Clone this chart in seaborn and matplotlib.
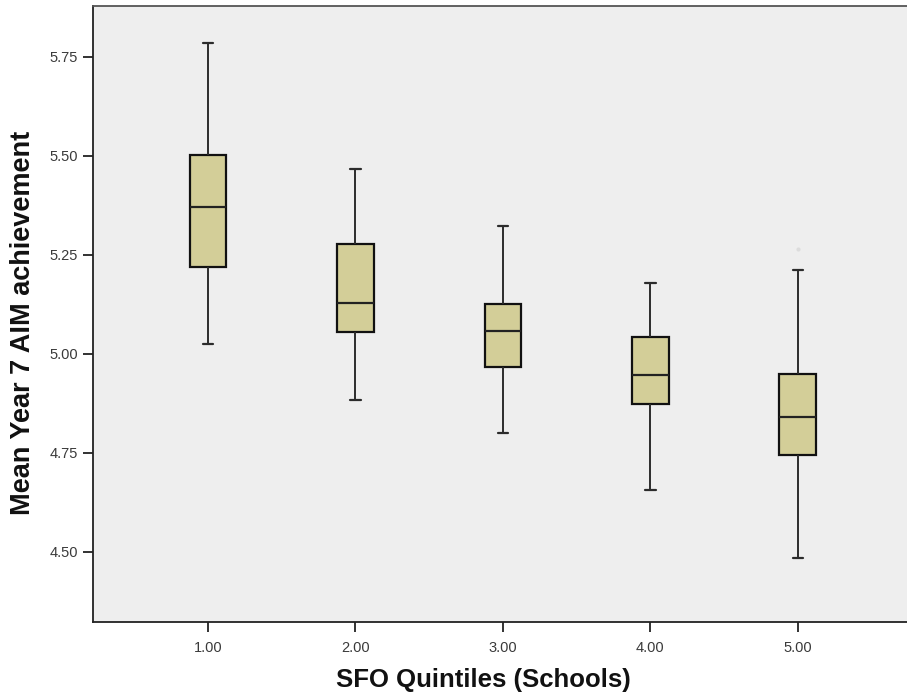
import pandas as pd
import seaborn as sns
import matplotlib.pyplot as plt
import numpy as np

# Box statistics (per quintile)
quintiles = ['1.00', '2.00', '3.00', '4.00', '5.00']
whisker_low = [5.025, 4.882, 4.799, 4.656, 4.485]
q1 = [5.218, 5.056, 4.966, 4.872, 4.745]
median = [5.371, 5.129, 5.058, 4.945, 4.841]
q3 = [5.502, 5.276, 5.126, 5.042, 4.950]
whisker_high = [5.785, 5.466, 5.322, 5.179, 5.211]

# faint outlier above quintile 5
outlier_group = ['5.00']
outlier_value = [5.264]

y_ticks = [4.50, 4.75, 5.00, 5.25, 5.50, 5.75]

# Five points per group -> quartiles and whisker ends land exactly on the values above
rows = []
for i, q in enumerate(quintiles):
    for v in [whisker_low[i], q1[i], median[i], q3[i], whisker_high[i]]:
        rows.append({'quintile': q, 'value': v})
df = pd.DataFrame(rows)
df_out = pd.DataFrame({'quintile': outlier_group, 'value': outlier_value})

sns.set_style('white')
plt.rcParams['font.family'] = ['Liberation Sans', 'DejaVu Sans']

fig = plt.figure(figsize=(9.07, 6.98), dpi=100)
ax = fig.add_axes([93 / 907, 1 - 622 / 698, 1 - 93 / 907, (622 - 6) / 698])
ax.set_facecolor('#EEEEEE')

line_col = '#2b2b2b'
sns.boxplot(data=df, x='quintile', y='value', order=quintiles, ax=ax,
            width=0.25, whis=(0, 100), color='#D3CE98', saturation=1,
            linewidth=1.3, linecolor=line_col, capwidths=0.07,
            boxprops={'edgecolor': '#111111', 'linewidth': 1.6},
            medianprops={'color': '#222222', 'linewidth': 1.6},
            whiskerprops={'color': line_col, 'linewidth': 1.4},
            capprops={'color': line_col, 'linewidth': 1.6},
            showfliers=False)
sns.stripplot(data=df_out, x='quintile', y='value', order=quintiles, ax=ax,
              color='#DCDCDC', size=3, jitter=False, zorder=1)

ax.set_xlim(-0.78, 4.74)
ax.set_ylim(4.3225, 5.878)
ax.set_yticks(y_ticks)
ax.set_yticklabels([f'{t:.2f}' for t in y_ticks])

ax.tick_params(axis='both', which='major', length=7, width=1.3, color='#222222',
               labelsize=10.5, labelcolor='#3a3a3a', left=True, bottom=True)
ax.tick_params(axis='y', pad=4)
ax.tick_params(axis='x', pad=7)

for side in ['left', 'bottom', 'top']:
    ax.spines[side].set_color('#222222')
    ax.spines[side].set_linewidth(1.3)
ax.spines['top'].set_color('#555555')
ax.spines['right'].set_visible(False)

ax.set_xlabel('')
ax.set_ylabel('')
fig.text(483 / 907, 1 - 680 / 698, 'SFO Quintiles (Schools)', fontsize=18.5,
         fontweight='bold', color='#111111', ha='center', va='center')
fig.text(23 / 907, 1 - 323 / 698, 'Mean Year 7 AIM achievement', fontsize=19.5,
         fontweight='bold', color='#111111', ha='center', va='center',
         rotation=90)

fig.savefig('out.png', dpi=100)
